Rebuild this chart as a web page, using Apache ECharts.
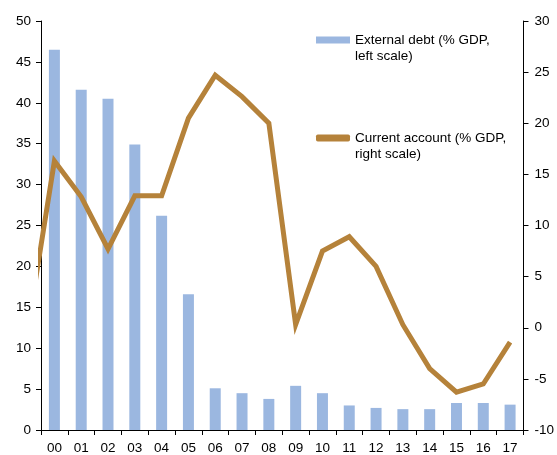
<!DOCTYPE html>
<html>
<head>
<meta charset="utf-8">
<script src="https://cdn.jsdelivr.net/npm/echarts@6/dist/echarts.min.js"></script>
<style>
  html, body { margin: 0; padding: 0; background: #fff; }
  #chart { width: 557px; height: 455px; }
</style>
</head>
<body>
<div id="chart"></div>
<script>
// years on the category axis
var years = ['00','01','02','03','04','05','06','07','08','09','10','11','12','13','14','15','16','17']
// external debt, % GDP (left scale)
var debtValues = [46.5, 41.6, 40.5, 34.9, 26.2, 16.6, 5.1, 4.5, 3.8, 5.4, 4.5, 3.0, 2.7, 2.55, 2.55, 3.3, 3.3, 3.1]
// current account, % GDP (right scale); first value is 1999, clipped at the left edge
var caValues = [-0.2, 16.3, 12.8, 7.7, 12.9, 12.9, 20.5, 24.7, 22.6, 20.0, 0.3, 7.5, 8.9, 6.0, 0.3, -4.0, -6.3, -5.5, -1.4]
var caFirstIndex = -1
var leftTicks = [0, 50, 5]
var rightTicks = [-10, 30, 5]

var debtName = 'External debt (% GDP,\nleft scale)'
var caName = 'Current account (% GDP,\nright scale)'

var caData = caValues.map(function (v, i) { return [i + caFirstIndex, v] })

var axisText = { color: '#000', fontSize: 13.5, fontFamily: 'Liberation Sans, Arial, sans-serif' }

var chart = echarts.init(document.getElementById('chart'), null, { renderer: 'canvas' })
chart.setOption({
  animation: false,
  textStyle: { fontFamily: 'Liberation Sans, Arial, sans-serif' },
  grid: { left: 41, right: 32, top: 21, bottom: 24, containLabel: false },
  legend: {
    orient: 'vertical',
    left: 316,
    top: 16,
    padding: 0,
    itemWidth: 34,
    itemHeight: 7,
    itemGap: 50,
    // leading blank line so the first text line sits level with the icon
    formatter: function (name) { return '\n' + name },
    textStyle: { color: '#000', fontSize: 13.5, lineHeight: 16 },
    data: [
      { name: debtName, icon: 'rect' },
      { name: caName, icon: 'roundRect', itemStyle: { color: '#b5823a' } }
    ]
  },
  xAxis: [
    {
      type: 'category',
      data: years,
      boundaryGap: true,
      axisLine: { onZero: false, lineStyle: { color: '#000', width: 1 } },
      axisTick: { show: true, inside: false, length: 5, lineStyle: { color: '#000' } },
      axisLabel: Object.assign({ margin: 11, interval: 0 }, axisText),
      splitLine: { show: false }
    },
    {
      type: 'value',
      min: -0.5,
      max: years.length - 0.5,
      show: false
    }
  ],
  yAxis: [
    {
      type: 'value',
      min: leftTicks[0], max: leftTicks[1], interval: leftTicks[2],
      axisLine: { show: true, onZero: false, lineStyle: { color: '#000' } },
      axisTick: { show: true, length: 5, lineStyle: { color: '#000' } },
      axisLabel: Object.assign({ margin: 10 }, axisText),
      splitLine: { show: false }
    },
    {
      type: 'value',
      position: 'right',
      min: rightTicks[0], max: rightTicks[1], interval: rightTicks[2],
      axisLine: { show: true, onZero: false, lineStyle: { color: '#000' } },
      axisTick: { show: true, length: 5, lineStyle: { color: '#000' } },
      axisLabel: Object.assign({ margin: 11 }, axisText),
      splitLine: { show: false }
    }
  ],
  series: [
    {
      name: debtName,
      type: 'bar',
      xAxisIndex: 0,
      yAxisIndex: 0,
      data: debtValues,
      barWidth: '41%',
      itemStyle: { color: '#9bb7e0' }
    },
    {
      name: caName,
      type: 'line',
      xAxisIndex: 1,
      yAxisIndex: 1,
      data: caData,
      symbol: 'none',
      clip: true,
      lineStyle: { color: '#b5823a', width: 5, join: 'miter' },
      itemStyle: { color: '#b5823a' }
    }
  ]
})
</script>
</body>
</html>
